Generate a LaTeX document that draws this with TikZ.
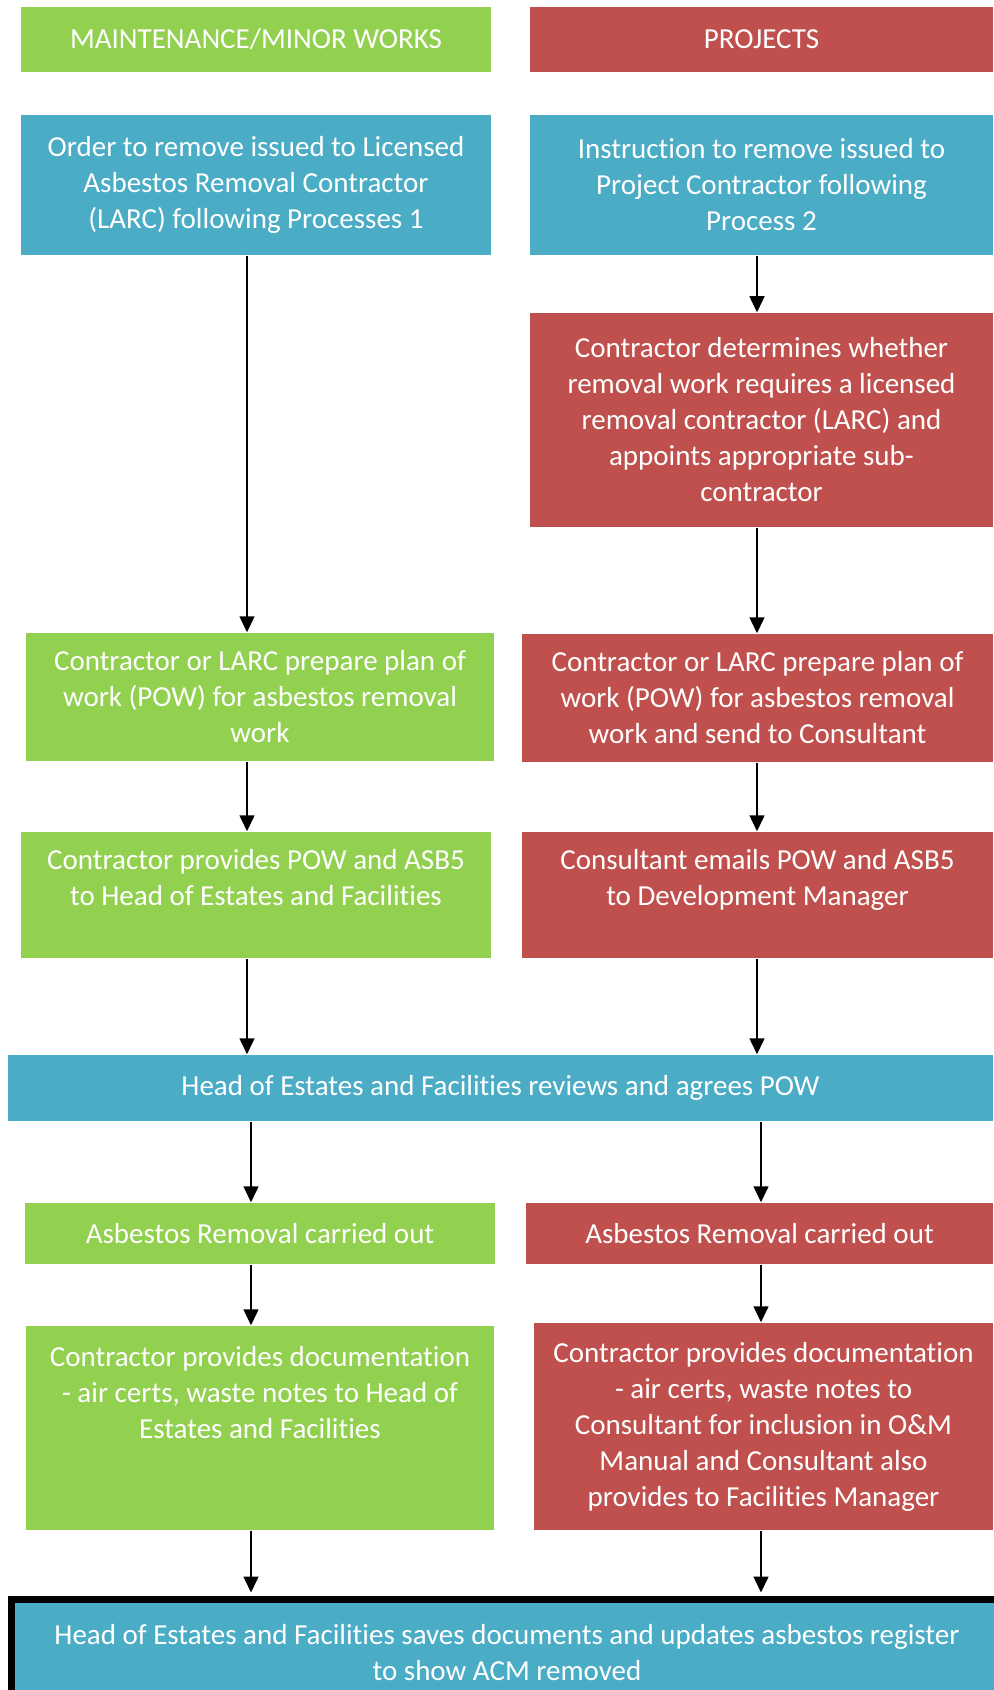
\documentclass[tikz,border=0pt]{standalone}
\usepackage{fontspec}
\setmainfont[Ligatures=NoCommon]{Carlito}
\usetikzlibrary{arrows.meta}
\definecolor{mwgreen}{HTML}{92D050}
\definecolor{projred}{HTML}{C0504D}
\definecolor{stepblue}{HTML}{4BACC6}

\begin{document}
\begin{tikzpicture}[
    x=0.5pt, y=-0.5pt,
    >={Triangle[width=7.5pt,length=8pt]},
    line width=0.75pt,
    every node/.style={font=\fontsize{14.5}{18}\selectfont, text=white, align=center, inner sep=0pt},
    gbox/.style={fill=mwgreen},
    rbox/.style={fill=projred},
    bbox/.style={fill=stepblue}
  ]
  \useasboundingbox (0,0) rectangle (993,1690);

  % Column headers
  \node[gbox, minimum width=235pt, minimum height=32.5pt] (hmw) at (256,39.5) {MAINTENANCE/MINOR WORKS};
  \node[rbox, minimum width=231.5pt, minimum height=32.5pt] (hproj) at (761.5,39.5) {PROJECTS};

  % Instructions
  \node[bbox, minimum width=235pt, minimum height=70pt] (order) at (256,185)
    {Order to remove issued to Licensed\\Asbestos Removal Contractor\\(LARC) following Processes 1};
  \node[bbox, minimum width=231.5pt, minimum height=70pt] (instr) at (761.5,185)
    {Instruction to remove issued to\\Project Contractor following\\Process 2};

  % Contractor decides on LARC
  \node[rbox, minimum width=231.5pt, minimum height=107pt] (decide) at (761.5,420)
    {Contractor determines whether\\removal work requires a licensed\\removal contractor (LARC) and\\appoints appropriate sub-\\contractor};

  % Plans of work
  \node[gbox, minimum width=234pt, minimum height=64pt] (gpow) at (260,697)
    {Contractor or LARC prepare plan of\\work (POW) for asbestos removal\\work};
  \node[rbox, minimum width=235.5pt, minimum height=64pt] (rpow) at (757.5,698)
    {Contractor or LARC prepare plan of\\work (POW) for asbestos removal\\work and send to Consultant};

  % POW and ASB5
  \node[gbox, minimum width=235pt, minimum height=63pt] (gasb) at (256,895)
    {Contractor provides POW and ASB5\\to Head of Estates and Facilities\\ \mbox{}};
  \node[rbox, minimum width=235.5pt, minimum height=63pt] (rasb) at (757.5,895)
    {Consultant emails POW and ASB5\\to Development Manager\\ \mbox{}};

  % Review
  \node[bbox, minimum width=492.5pt, minimum height=33pt] (review) at (500.5,1088)
    {Head of Estates and Facilities reviews and agrees POW};

  % Removal
  \node[gbox, minimum width=235pt, minimum height=30.5pt] (grem) at (260,1233.5) {Asbestos Removal carried out};
  \node[rbox, minimum width=233.5pt, minimum height=30.5pt] (rrem) at (759.5,1233.5) {Asbestos Removal carried out};

  % Documentation
  \node[gbox, minimum width=234pt, minimum height=102pt] (gdoc) at (260,1428)
    {Contractor provides documentation\\- air certs, waste notes to Head of\\Estates and Facilities\\ \mbox{}\\ \mbox{}};
  \node[rbox, minimum width=229.5pt, minimum height=103.5pt] (rdoc) at (763.5,1426.5)
    {Contractor provides documentation\\- air certs, waste notes to\\Consultant for inclusion in O\&M\\Manual and Consultant also\\provides to Facilities Manager};

  % Register update
  \node[bbox, draw=black, line width=3.5pt, minimum width=495.5pt, minimum height=53pt] (final) at (507,1652.5)
    {Head of Estates and Facilities saves documents and updates asbestos register\\to show ACM removed};

  % Arrow columns
  \coordinate (lup) at (247,0);
  \coordinate (llow) at (251,0);
  \coordinate (rup) at (757,0);
  \coordinate (rlow) at (761,0);

  \draw[->] (order.south -| lup) -- (gpow.north -| lup);
  \draw[->] (instr.south -| rup) -- (decide.north -| rup);
  \draw[->] (decide.south -| rup) -- (rpow.north -| rup);
  \draw[->] (gpow.south -| lup) -- (gasb.north -| lup);
  \draw[->] (rpow.south -| rup) -- (rasb.north -| rup);
  \draw[->] (gasb.south -| lup) -- (review.north -| lup);
  \draw[->] (rasb.south -| rup) -- (review.north -| rup);
  \draw[->] (review.south -| llow) -- (grem.north -| llow);
  \draw[->] (review.south -| rlow) -- (rrem.north -| rlow);
  \draw[->] (grem.south -| llow) -- (gdoc.north -| llow);
  \draw[->] (rrem.south -| rlow) -- (rdoc.north -| rlow);
  \draw[->, shorten >=1.75pt] (gdoc.south -| llow) -- (final.north -| llow);
  \draw[->, shorten >=1.75pt] (rdoc.south -| rlow) -- (final.north -| rlow);
\end{tikzpicture}
\end{document}
